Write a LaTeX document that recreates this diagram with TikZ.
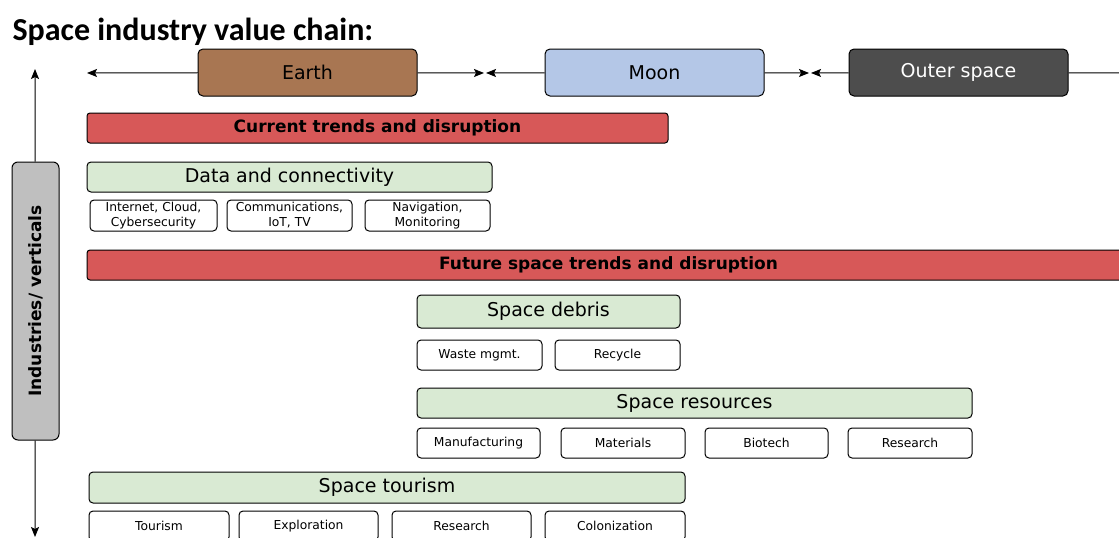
\documentclass[tikz,border=0pt]{standalone}
\usepackage{fontspec}
\setmainfont{DejaVu Sans}
\newfontfamily\titlefont{Carlito}
\usepackage{xcolor}
\usetikzlibrary{arrows.meta}
\definecolor{earthBrown}{RGB}{168, 118, 82}
\definecolor{moonBlue}{RGB}{180, 199, 231}
\definecolor{spaceGray}{RGB}{77, 77, 77}
\definecolor{trendRed}{RGB}{215, 88, 88}
\definecolor{sectorGreen}{RGB}{217, 234, 211}
\definecolor{verticalGray}{RGB}{191, 191, 191}

\begin{document}
\begin{tikzpicture}[x=1pt, y=-1pt]
            % Styles
            \tikzstyle{place} = [rectangle, draw=black, line width=1pt, minimum width=219pt, minimum height=47pt, rounded corners=5pt, inner sep=0pt, font=\fontsize{19}{22}\selectfont]
            \tikzstyle{trend} = [rectangle, draw=black, line width=1pt, fill=trendRed, minimum height=30pt, rounded corners=3pt, inner sep=0pt, font=\fontsize{17}{20}\selectfont\bfseries]
            \tikzstyle{sector} = [rectangle, draw=black, line width=1pt, fill=sectorGreen, minimum height=30pt, rounded corners=4pt, inner sep=0pt, font=\fontsize{19}{22}\selectfont]
            \tikzstyle{item} = [rectangle, draw=black, line width=1pt, fill=white, minimum height=30pt, rounded corners=4pt, inner sep=0pt, align=center, font=\fontsize{12.3}{15}\selectfont]
            \tikzstyle{arrow} = [-{Stealth[length=10pt, width=8pt, inset=2pt]}, line width=1pt, black]

            \useasboundingbox (0,0) rectangle (1119,538);

            \node[anchor=base west, font=\titlefont\fontsize{32}{36}\selectfont\bfseries] (title) at (9,40) {Space industry value chain:};

            % Places
            \node[place, fill=earthBrown] (earth) at (307.5,72.5) {Earth};
            \node[place, fill=moonBlue] (moon) at (654.5,72.5) {Moon};
            \node[place, fill=spaceGray, text=white] (outer) at (958.5,72.5) {Outer space};

            \coordinate (left) at (87,73);
            \coordinate (em) at (484,73);
            \coordinate (me) at (486,73);
            \coordinate (mo) at (809,73);
            \coordinate (om) at (811,73);
            \coordinate (right) at (1125,73);

            \draw[arrow] (earth) -- (left);
            \draw[arrow] (earth) -- (em);
            \draw[arrow] (moon) -- (me);
            \draw[arrow] (moon) -- (mo);
            \draw[arrow] (outer) -- (om);
            \draw[line width=1pt] (outer) -- (right);

            % Industries axis
            \node[rectangle, draw=black, line width=1pt, fill=verticalGray, rounded corners=6pt, rotate=90, minimum width=278pt, minimum height=47pt, inner sep=0pt, font=\fontsize{17}{20}\selectfont\bfseries] (ind) at (35.5,301) {Industries/ verticals};
            \coordinate (top) at (35,69);
            \coordinate (bottom) at (35,537);
            \draw[arrow] (ind) -- (top);
            \draw[arrow] (ind) -- (bottom);

            % Current trends
            \node[trend, minimum width=581pt] (cur) at (377.5,128) {Current trends and disruption};
            \node[sector, minimum width=405pt] (data) at (289.5,177) {Data and connectivity};
            \node[item, minimum width=127pt, minimum height=31pt] (inet) at (153.5,215.5) {Internet, Cloud,\\Cybersecurity};
            \node[item, minimum width=125pt, minimum height=31pt] (comm) at (289.5,215.5) {Communications,\\IoT, TV};
            \node[item, minimum width=125pt, minimum height=31pt] (nav) at (427.5,215.5) {Navigation,\\Monitoring};

            % Future trends
            \node[trend, minimum width=1043pt] (fut) at (608.5,265) {Future space trends and disruption};

            \node[sector, minimum width=263pt, minimum height=33pt] (debris) at (548.5,311.5) {Space debris};
            \node[item, minimum width=125pt] (waste) at (479.5,355) {Waste mgmt.};
            \node[item, minimum width=125pt] (recycle) at (617.5,355) {Recycle};

            \node[sector, minimum width=555pt] (resources) at (694.5,403) {Space resources};
            \node[item, minimum width=123pt] (manuf) at (478.5,443) {Manufacturing};
            \node[item, minimum width=124pt] (mat) at (623,443) {Materials};
            \node[item, minimum width=123pt] (bio) at (766.5,443) {Biotech};
            \node[item, minimum width=124pt] (resr) at (910,443) {Research};

            \node[sector, minimum width=596pt, minimum height=31pt] (tourism) at (387,487.5) {Space tourism};
            \node[item, minimum width=140pt] (tour) at (159,526) {Tourism};
            \node[item, minimum width=139pt] (expl) at (308.5,526) {Exploration};
            \node[item, minimum width=139pt] (rest) at (461.5,526) {Research};
            \node[item, minimum width=140pt] (colon) at (615,526) {Colonization};
        \end{tikzpicture}
\end{document}
